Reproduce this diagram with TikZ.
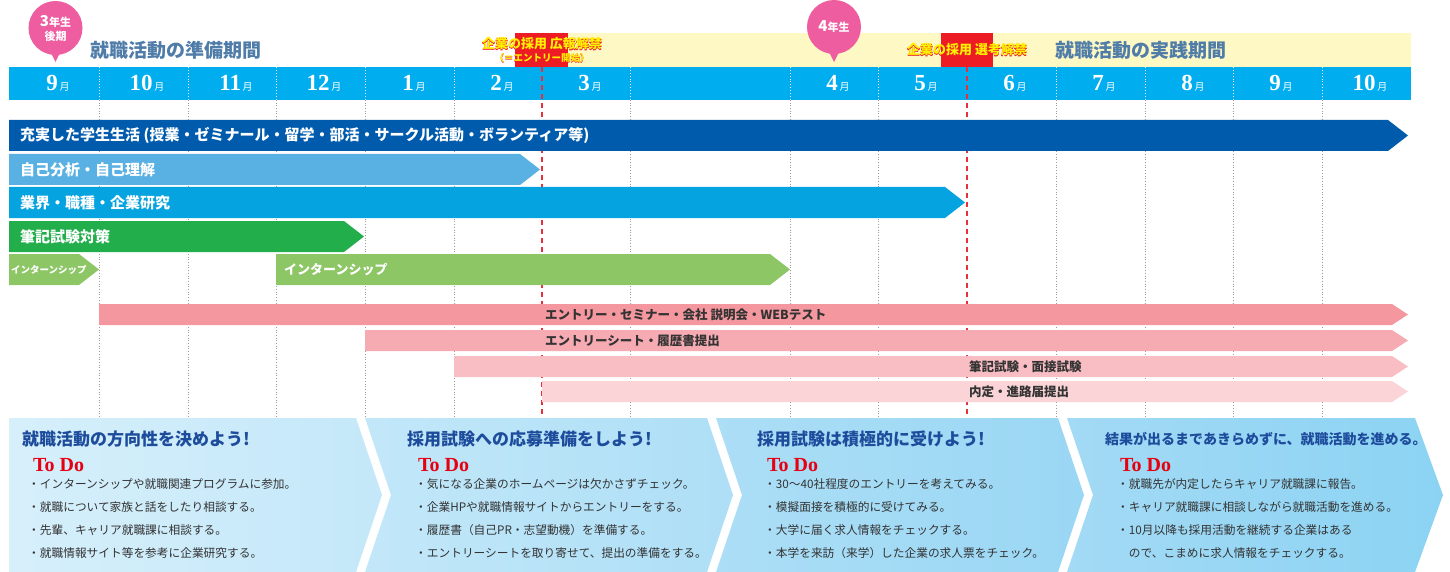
\documentclass[tikz,border=0pt]{standalone}
\usepackage{fontspec}
\setmainfont{Liberation Serif}
\newfontfamily\jp{Noto Sans CJK JP}
\newfontfamily\jpout{Noto Sans CJK JP Bold}[FakeBold=3]
\newfontfamily\jpoutsmall{Noto Sans CJK JP Bold}[FakeBold=2]
\newfontfamily\numf{Liberation Serif}
\definecolor{monthblue}{HTML}{00AEEF}
\definecolor{bandyellow}{HTML}{FEF9C4}
\definecolor{boxred}{HTML}{ED1C24}
\definecolor{outyellow}{HTML}{FFF200}
\definecolor{balloonpink}{HTML}{EF5DA1}
\definecolor{headblue}{HTML}{4F7CA8}
\definecolor{gridgray}{HTML}{9A9A9A}
\definecolor{redline}{HTML}{E8303A}
\definecolor{rowA}{HTML}{005BAC}
\definecolor{rowB}{HTML}{58B0E3}
\definecolor{rowC}{HTML}{05A3DF}
\definecolor{rowD}{HTML}{23AE4C}
\definecolor{rowE}{HTML}{8DC665}
\definecolor{pinkA}{HTML}{F4979F}
\definecolor{pinkB}{HTML}{F6ABB3}
\definecolor{pinkC}{HTML}{F8BEC4}
\definecolor{pinkD}{HTML}{FAD4D7}
\definecolor{titleblue}{HTML}{1E4C9C}
\definecolor{todored}{HTML}{E60012}
\definecolor{bodygray}{HTML}{333333}
\definecolor{pinktext}{HTML}{333333}
\definecolor{pa}{HTML}{D6EFFB}
\definecolor{pb}{HTML}{C4E8F9}
\definecolor{pc}{HTML}{C2E7F9}
\definecolor{pd}{HTML}{AEDFF6}
\definecolor{pe}{HTML}{ACDEF6}
\definecolor{pf}{HTML}{9AD7F4}
\definecolor{pg}{HTML}{A3DAF5}
\definecolor{ph}{HTML}{8CD3F3}
\newcommand{\arrowbar}[6]{\fill[#1] (#2,#4) -- ({#3-#6},#4) -- (#3,{(#4+#5)/2}) -- ({#3-#6},#5) -- (#2,#5) -- cycle;}
% red emboldened layer under a yellow layer
\newcommand{\outlinetext}[5]{%
  \node[font=#5\fontsize{#3}{#3}\selectfont, text=boxred, inner sep=0] (#1r) at (#2) {#4};
  \node[font=\jp\bfseries\fontsize{#3}{#3}\selectfont, text=outyellow, inner sep=0] (#1) at (#2) {#4};
}
\begin{document}
\begin{tikzpicture}[x=1pt,y=-1pt,
  monthlbl/.style={text=white, inner sep=0, anchor=base},
  bartext/.style={text=white, anchor=west, inner sep=0, font=\jp\bfseries\fontsize{15}{15}\selectfont},
  pinklbl/.style={text=pinktext, anchor=west, inner sep=0, font=\jp\bfseries\fontsize{12.5}{12.5}\selectfont},
  ptitle/.style={text=titleblue, anchor=west, inner sep=0, font=\jp\bfseries\fontsize{17}{17}\selectfont},
  todo/.style={text=todored, anchor=west, inner sep=0, font=\numf\bfseries\fontsize{20}{20}\selectfont},
  bullet/.style={text=bodygray, anchor=west, inner sep=0, font=\jp\fontsize{11.7}{11.7}\selectfont},
  balloontxt/.style={text=white, inner sep=0, font=\jp\bfseries}]
\useasboundingbox (0,0) rectangle (1450,572);
% bands
\fill[bandyellow] (568,33) rectangle (1411,67);
\fill[boxred] (515,33) rectangle (568,67);
\fill[boxred] (941,33) rectangle (993,67);
\fill[monthblue] (9,67) rectangle (1411,100);
% grid
\foreach \x in {99,188,276,365,454,630,790,878,1056,1145,1233,1322} {
  \draw[white, dotted, line width=0.9pt] (\x,67) -- (\x,100);
  \draw[gridgray, dotted, line width=0.7pt] (\x,100) -- (\x,417);
}
\foreach \x in {542,967} \draw[redline, line width=1.2pt, dash pattern=on 5pt off 4pt] (\x,67) -- (\x,417);
% months
\foreach \c/\m [count=\i] in {54/9,143/10,232/11,320/12,410/1,498/2,586/3,834/4,922/5,1011/6,1100/7,1189/8,1277/9,1366/10}
  \node[monthlbl] (mon\i) at (\c+4,91) {{\numf\bfseries\fontsize{23}{23}\selectfont\m}\,{\jp\fontsize{10}{10}\selectfont 月}};
% balloons
\fill[balloonpink] (55.5,28) circle (27);
\fill[balloonpink] (49.5,50) -- (61.5,50) -- (55.5,62) -- cycle;
\node[balloontxt] (b3) at (55.5,21) {{\fontsize{15}{15}\selectfont 3}{\fontsize{11}{11}\selectfont 年生}};
\node[balloontxt, font=\jp\bfseries\fontsize{11}{11}\selectfont] (b3b) at (55.5,36) {後期};
\fill[balloonpink] (834,27) circle (27);
\fill[balloonpink] (828,50) -- (840,50) -- (834,62) -- cycle;
\node[balloontxt] (b4) at (834,27) {{\fontsize{15}{15}\selectfont 4}{\fontsize{11}{11}\selectfont 年生}};
% headers
\node[text=headblue, anchor=west, inner sep=0, font=\jp\bfseries\fontsize{19}{19}\selectfont] (prep) at (90,50) {就職活動の準備期間};
\node[text=headblue, anchor=west, inner sep=0, font=\jp\bfseries\fontsize{19}{19}\selectfont] (prac) at (1055,50) {就職活動の実践期間};
\outlinetext{koho}{542,44}{13}{企業の採用 広報解禁}{\jpout}
\outlinetext{entry}{542,58}{9.5}{（＝エントリー開始）}{\jpoutsmall}
\outlinetext{senko}{967,50}{13}{企業の採用 選考解禁}{\jpout}
% bars
\arrowbar{rowA}{9}{1408}{120}{151}{20}
\arrowbar{rowB}{9}{540}{154}{185}{20}
\arrowbar{rowC}{9}{965}{187}{218}{20}
\arrowbar{rowD}{9}{364}{221}{252}{20}
\arrowbar{rowE}{9}{99}{254}{285}{20}
\arrowbar{rowE}{276}{790}{254}{285}{20}
\node[bartext, font=\jp\bfseries\fontsize{15}{15}\selectfont] (r1) at (20,135.5) {充実した学生生活 (授業・ゼミナール・留学・部活・サークル活動・ボランティア等)};
\node[bartext] (r2) at (20,169.5) {自己分析・自己理解};
\node[bartext] (r3) at (20,202.5) {業界・職種・企業研究};
\node[bartext] (r4) at (20,236.5) {筆記試験対策};
\node[bartext, font=\jp\bfseries\fontsize{9.5}{9.5}\selectfont] (r5a) at (11,270) {インターンシップ};
\node[bartext, font=\jp\bfseries\fontsize{13}{13}\selectfont] (r5b) at (284,270) {インターンシップ};
% pink bars
\arrowbar{pinkA}{99}{1408}{304}{325}{16}
\arrowbar{pinkB}{365}{1408}{330}{351}{16}
\arrowbar{pinkC}{454}{1408}{356}{377}{16}
\arrowbar{pinkD}{542}{1408}{381}{402}{16}
\node[pinklbl] (p1) at (545,314.5) {エントリー・セミナー・会社 説明会・WEBテスト};
\node[pinklbl] (p2) at (545,340.5) {エントリーシート・履歴書提出};
\node[pinklbl] (p3) at (969,366.5) {筆記試験・面接試験};
\node[pinklbl] (p4) at (969,391.5) {内定・進路届提出};
% panels
\shade[left color=pa, right color=pb] (9,418) -- (356,418) -- (382,495) -- (356,572) -- (9,572) -- cycle;
\shade[left color=pc, right color=pd] (365,418) -- (707,418) -- (733,495) -- (707,572) -- (365,572) -- (391,495) -- cycle;
\shade[left color=pe, right color=pf] (716,418) -- (1058,418) -- (1084,495) -- (1058,572) -- (716,572) -- (742,495) -- cycle;
\shade[left color=pg, right color=ph] (1067,418) -- (1415,418) -- (1443,495) -- (1415,572) -- (1067,572) -- (1093,495) -- cycle;
% panel 1
\node[ptitle] (t1) at (22,439) {就職活動の方向性を決めよう!};
\node[todo] (d1) at (33,465) {To Do};
\node[bullet] (a1) at (28,484) {・インターンシップや就職関連プログラムに参加。};
\node[bullet] (a2) at (28,507) {・就職について家族と話をしたり相談する。};
\node[bullet] (a3) at (28,530) {・先輩、キャリア就職課に相談する。};
\node[bullet] (a4) at (28,553) {・就職情報サイト等を参考に企業研究する。};
% panel 2
\node[ptitle] (t2) at (407,439) {採用試験への応募準備をしよう!};
\node[todo] (d2) at (418,465) {To Do};
\node[bullet] (b1) at (415,484) {・気になる企業のホームページは欠かさずチェック。};
\node[bullet] (b2) at (415,507) {・企業HPや就職情報サイトからエントリーをする。};
\node[bullet] (b3x) at (415,530) {・履歴書（自己PR・志望動機）を準備する。};
\node[bullet] (b4x) at (415,553) {・エントリーシートを取り寄せて、提出の準備をする。};
% panel 3
\node[ptitle] (t3) at (757,439) {採用試験は積極的に受けよう!};
\node[todo] (d3) at (767,465) {To Do};
\node[bullet] (c1) at (764,484) {・30〜40社程度のエントリーを考えてみる。};
\node[bullet] (c2) at (764,507) {・模擬面接を積極的に受けてみる。};
\node[bullet] (c3) at (764,530) {・大学に届く求人情報をチェックする。};
\node[bullet] (c4) at (764,553) {・本学を来訪（来学）した企業の求人票をチェック。};
% panel 4
\node[ptitle, font=\jp\bfseries\fontsize{14}{14}\selectfont] (t4) at (1105,439) {結果が出るまであきらめずに、就職活動を進める。};
\node[todo] (d4) at (1120,465) {To Do};
\node[bullet] (e1) at (1117,484) {・就職先が内定したらキャリア就職課に報告。};
\node[bullet] (e2) at (1117,507) {・キャリア就職課に相談しながら就職活動を進める。};
\node[bullet] (e3) at (1117,530) {・10月以降も採用活動を継続する企業はある};
\node[bullet] (e4) at (1117,553) {\phantom{・}ので、こまめに求人情報をチェックする。};
\end{tikzpicture}
\end{document}
